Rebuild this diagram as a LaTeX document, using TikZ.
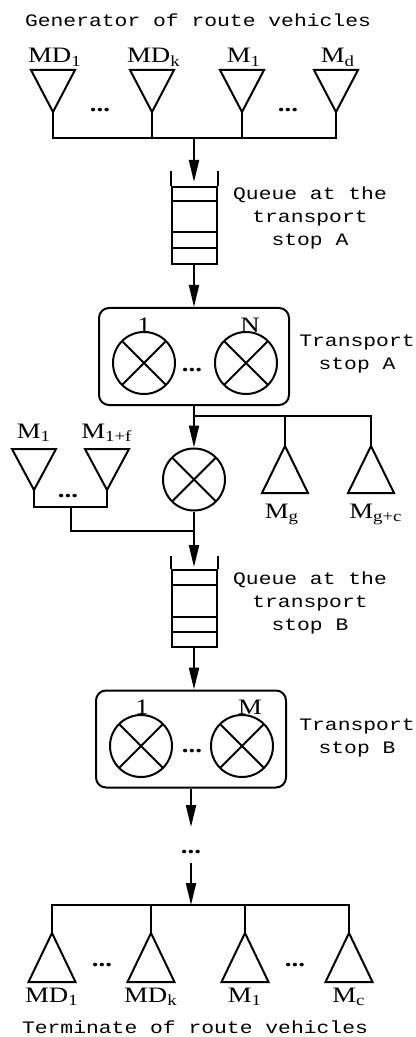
\documentclass[tikz,border=0pt]{standalone}
\usepackage{fontspec}
\setmainfont{Liberation Serif}
\setmonofont{Liberation Mono}
\usepackage{graphicx}
\usepackage{tikz}
\usetikzlibrary{calc,arrows.meta}
\newcommand{\stretchx}[1]{\scalebox{1.22}[1]{#1}}
\newcommand{\dotsrow}{\textbf{...}}
\tikzset{
  tight/.style={inner sep=0pt},
  lbl/.style={tight, font=\fontsize{11pt}{13pt}\selectfont},
  note/.style={align=center, font=\fontsize{8.75pt}{11.5pt}\selectfont\ttfamily},
  srv/.style={draw, circle, minimum size=31pt, tight, path picture={
      \draw (path picture bounding box.north east) -- (path picture bounding box.south west);
      \draw (path picture bounding box.north west) -- (path picture bounding box.south east);}},
  stop/.style={draw, rectangle, rounded corners=5pt, minimum width=95pt, minimum height=48.5pt},
  queue/.style={draw, rectangle, minimum width=22.5pt, minimum height=38.5pt, tight}
}

\begin{document}
\begin{tikzpicture}[x=0.5pt, y=-0.5pt, line width=1pt, >={Triangle[length=11pt,width=5pt]}]
  \useasboundingbox (0,0) rectangle (416,1037);

  % generator
  \node[note] (gen) at (198,20) {\stretchx{Generator of route vehicles}};
  \foreach \x/\n/\lab in {53/1/MD\textsubscript{1}, 152/2/MD\textsubscript{k}, 242/3/M\textsubscript{1}, 336/4/M\textsubscript{d}} {
    \coordinate (g\n) at (\x,112);
    \draw (g\n) -- ++(-22,-42) -- ++(44,0) -- cycle;
    \node[lbl, anchor=base] (gl\n) at ($(g\n)+(2,-49)$) {\stretchx{\lab}};
  }
  \node[lbl] (gd1) at (100,110) {\stretchx{\dotsrow}};
  \node[lbl] (gd2) at (288,110) {\stretchx{\dotsrow}};
  \coordinate (busa) at (194,138);
  \draw (g1) -- (g1 |- busa) -- (g4 |- busa) -- (g4);
  \draw (g2) -- (g2 |- busa);
  \draw (g3) -- (g3 |- busa);

  % queue A
  \node[queue] (qa) at (194,225.5) {};
  \draw (qa.north west) -- ++(0,-15);
  \draw (qa.north east) -- ++(0,-15);
  \foreach \d in {15,46,62}
    \draw ($(qa.north west)+(0,\d)$) -- ($(qa.north east)+(0,\d)$);
  \draw[->] (busa) -- ($(qa.north)+(0,-4)$);
  \node[note] (qat) at (310,218) {\stretchx{Queue at the}\\\stretchx{transport}\\\stretchx{stop A}};

  % transport stop A
  \node[stop] (sta) at (194,356.5) {};
  \node[srv] (sa1) at (144,363) {};
  \node[srv] (sa2) at (246,363) {};
  \node[lbl] (sal1) at (144,325) {\stretchx{1}};
  \node[lbl] (sal2) at (250,325) {\stretchx{N}};
  \node[lbl] (sad) at (192,370) {\stretchx{\dotsrow}};
  \node[note] (stat) at (357,354) {\stretchx{Transport}\\\stretchx{stop A}};
  \draw[->] (qa.south) -- (qa.south |- sta.north);

  % branching
  \node[srv] (mid) at (194,479.5) {};
  \coordinate (busb) at (194,416);
  \draw[->] (sta.south) -- (mid.north);
  \foreach \x/\n/\lab/\dx in {285/1/M\textsubscript{g}/-3, 371/2/M\textsubscript{g+c}/5} {
    \coordinate (e\n) at (\x,446);
    \draw (e\n) -- ++(-23,47) -- ++(46,0) -- cycle;
    \node[lbl, anchor=base] (el\n) at ($(e\n)+(\dx,72)$) {\stretchx{\lab}};
  }
  \draw (busb) -- (e2 |- busb) -- (e2);
  \draw (e1 |- busb) -- (e1);

  \foreach \x/\n/\lab in {34/1/M\textsubscript{1}, 107/2/M\textsubscript{1+f}} {
    \coordinate (f\n) at (\x,490);
    \draw (f\n) -- ++(-22,-41) -- ++(44,0) -- cycle;
    \node[lbl, anchor=base] (fl\n) at ($(f\n)+(0,-52)$) {\stretchx{\lab}};
  }
  \coordinate (busc) at (71,507);
  \coordinate (join) at (194,531);
  \draw (f1) -- (f1 |- busc) -- (f2 |- busc) -- (f2);
  \node[lbl] (fd) at (68,496) {\stretchx{\dotsrow}};
  \draw (busc) -- (busc |- join) -- (join);

  % queue B
  \node[queue] (qb) at (194,608.5) {};
  \draw (qb.north west) -- ++(0,-13);
  \draw (qb.north east) -- ++(0,-13);
  \foreach \d in {16,48,63}
    \draw ($(qb.north west)+(0,\d)$) -- ($(qb.north east)+(0,\d)$);
  \draw[->] (mid.south) -- ($(qb.north)+(0,-2)$);
  \node[note] (qbt) at (310,603) {\stretchx{Queue at the}\\\stretchx{transport}\\\stretchx{stop B}};

  % transport stop B
  \node[stop] (stb) at (191,739) {};
  \node[srv] (sb1) at (141,746) {};
  \node[srv] (sb2) at (242,746) {};
  \node[lbl] (sbl1) at (142,707) {\stretchx{1}};
  \node[lbl] (sbl2) at (250,707) {\stretchx{M}};
  \node[lbl] (sbd) at (192,751) {\stretchx{\dotsrow}};
  \node[note] (stbt) at (357,738) {\stretchx{Transport}\\\stretchx{stop B}};
  \draw[->] (qb.south) -- (qb.south |- stb.north);

  % terminate
  \node[lbl, minimum height=10pt] (more) at (191,852) {\stretchx{\dotsrow}};
  \draw[->, shorten >=7pt] (stb.south) -- (more.north);
  \coordinate (busd) at (191,905);
  \draw[->] (more.south) -- (busd);
  \foreach \x/\n/\lab in {52/1/MD\textsubscript{1}, 151/2/MD\textsubscript{k}, 245/3/M\textsubscript{1}, 349/4/M\textsubscript{c}} {
    \coordinate (t\n) at (\x,933);
    \draw (t\n) -- ++(-23.5,49) -- ++(47,0) -- cycle;
    \node[lbl, anchor=base] (tl\n) at ($(t\n)+(0,69)$) {\stretchx{\lab}};
  }
  \draw (t1) -- (t1 |- busd) -- (t4 |- busd) -- (t4);
  \draw (t2) -- (t2 |- busd);
  \draw (t3) -- (t3 |- busd);
  \node[lbl] (td1) at (102,965) {\stretchx{\dotsrow}};
  \node[lbl] (td2) at (295,965) {\stretchx{\dotsrow}};
  \node[note] (term) at (195,1027) {\stretchx{Terminate of route vehicles}};
\end{tikzpicture}
\end{document}
